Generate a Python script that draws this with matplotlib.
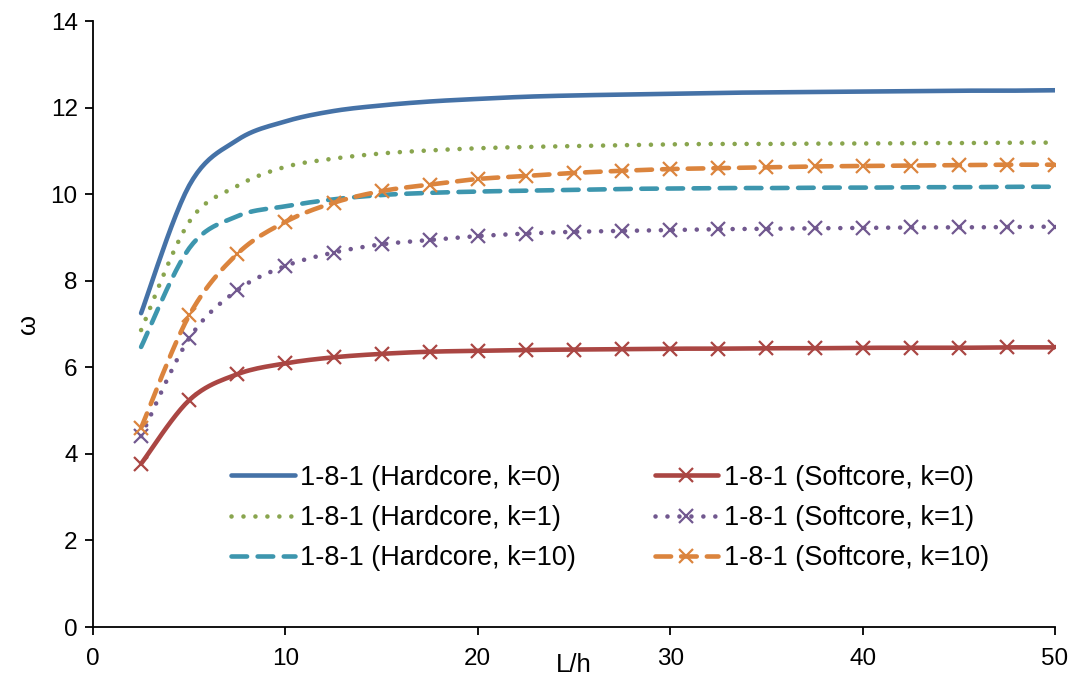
import numpy as np
import matplotlib
matplotlib.use("Agg")
import matplotlib.pyplot as plt

plt.rcParams['font.family'] = ['Liberation Sans', 'DejaVu Sans']

# L/h values (same for every series)
lh = [2.5, 5, 7.5, 10, 12.5, 15, 17.5, 20, 22.5, 25,
      27.5, 30, 32.5, 35, 37.5, 40, 42.5, 45, 47.5, 50]

hard_k0 = [7.25, 10.2, 11.25, 11.68, 11.92, 12.05, 12.14, 12.2, 12.25, 12.28,
           12.3, 12.32, 12.34, 12.35, 12.36, 12.37, 12.38, 12.39, 12.39, 12.4]
hard_k1 = [6.86, 9.36, 10.19, 10.63, 10.82, 10.94, 11.01, 11.06, 11.09, 11.11,
           11.13, 11.15, 11.16, 11.16, 11.17, 11.17, 11.18, 11.18, 11.19, 11.19]
hard_k10 = [6.47, 8.75, 9.49, 9.72, 9.88, 9.98, 10.03, 10.06, 10.08, 10.1,
            10.12, 10.13, 10.14, 10.14, 10.15, 10.15, 10.16, 10.16, 10.17, 10.17]
soft_k0 = [3.77, 5.24, 5.84, 6.09, 6.23, 6.31, 6.36, 6.38, 6.40, 6.41,
           6.42, 6.43, 6.43, 6.44, 6.44, 6.45, 6.45, 6.45, 6.46, 6.46]
soft_k1 = [4.41, 6.67, 7.78, 8.34, 8.65, 8.84, 8.94, 9.03, 9.09, 9.13,
           9.15, 9.17, 9.19, 9.2, 9.21, 9.22, 9.23, 9.23, 9.24, 9.25]
soft_k10 = [4.6, 7.2, 8.62, 9.36, 9.8, 10.07, 10.22, 10.35, 10.42, 10.49,
            10.54, 10.58, 10.6, 10.62, 10.64, 10.65, 10.66, 10.67, 10.68, 10.68]

labels = ["1-8-1 (Hardcore, k=0)", "1-8-1 (Hardcore, k=1)", "1-8-1 (Hardcore, k=10)",
          "1-8-1 (Softcore, k=0)", "1-8-1 (Softcore, k=1)", "1-8-1 (Softcore, k=10)"]

N = 12  # samples per segment of the smoothed line


def smooth(x, y, n=N):
    """Excel-like smoothed line (Bezier through the points)."""
    p = np.column_stack([x, y]).astype(float)
    p = np.vstack([p[0], p, p[-1]])
    out = []
    t = np.linspace(0, 1, n, endpoint=False)[:, None]
    for i in range(1, len(p) - 2):
        p0, p1, p2, p3 = p[i - 1], p[i], p[i + 1], p[i + 2]
        b1 = p1 + (p2 - p0) / 6.0
        b2 = p2 - (p3 - p1) / 6.0
        seg = ((1 - t) ** 3) * p1 + 3 * ((1 - t) ** 2) * t * b1 \
            + 3 * (1 - t) * t ** 2 * b2 + t ** 3 * p2
        out.append(seg)
    out.append(p[-2][None, :])
    out = np.vstack(out)
    return out[:, 0], out[:, 1]


fig = plt.figure(figsize=(10.75, 6.82), dpi=100)
ax = fig.add_axes([93 / 1075, 55 / 682, 962 / 1075, 606 / 682])

lw = 3.3
series = [
    (hard_k0, '#4572A7', dict(linestyle='-'), None),
    (hard_k1, '#89A54E', dict(dashes=(0.01, 2.6), dash_capstyle='round'), None),
    (hard_k10, '#3D96AE', dict(dashes=(3.4, 2.3), dash_capstyle='round'), None),
    (soft_k0, '#AA4643', dict(linestyle='-'), 'x'),
    (soft_k1, '#71588F', dict(dashes=(0.01, 2.6), dash_capstyle='round'), 'x'),
    (soft_k10, '#DB843D', dict(dashes=(3.4, 2.2), dash_capstyle='round'), 'x'),
]

for (vals, col, style, mk), lab in zip(series, labels):
    xs, ys = smooth(lh, vals)
    ax.plot(xs, ys, color=col, lw=lw, label=lab, marker=mk, markevery=N,
            markersize=10, markeredgewidth=1.6, solid_capstyle='round', **style)

ax.set_xlim(0, 50)
ax.set_ylim(0, 14)
ax.set_xticks([0, 10, 20, 30, 40, 50])
ax.set_yticks(np.arange(0, 15, 2))
ax.spines['top'].set_visible(False)
ax.spines['right'].set_visible(False)
for s in ['left', 'bottom']:
    ax.spines[s].set_linewidth(1.3)
ax.tick_params(direction='out', length=6, width=1.3, labelsize=17.5, pad=5)
ax.tick_params(axis='x', pad=9)

ax.set_xlabel('L/h', fontsize=18.5)
ax.xaxis.set_label_coords(0.5, -0.063)
ax.xaxis.label.set_va('center')
ax.set_ylabel('ω', fontsize=18.5)
ax.yaxis.set_label_coords(-0.068, 0.5)
ax.yaxis.label.set_va('center')

leg = ax.legend(ncol=2, frameon=False, fontsize=19.5, loc='center',
                bbox_to_anchor=(610 / 1075, (682 - 518) / 682),
                bbox_transform=fig.transFigure, handlelength=2.35,
                handletextpad=0.2, columnspacing=2.9, labelspacing=0.53,
                numpoints=1)

plt.savefig("out.png", dpi=100)
